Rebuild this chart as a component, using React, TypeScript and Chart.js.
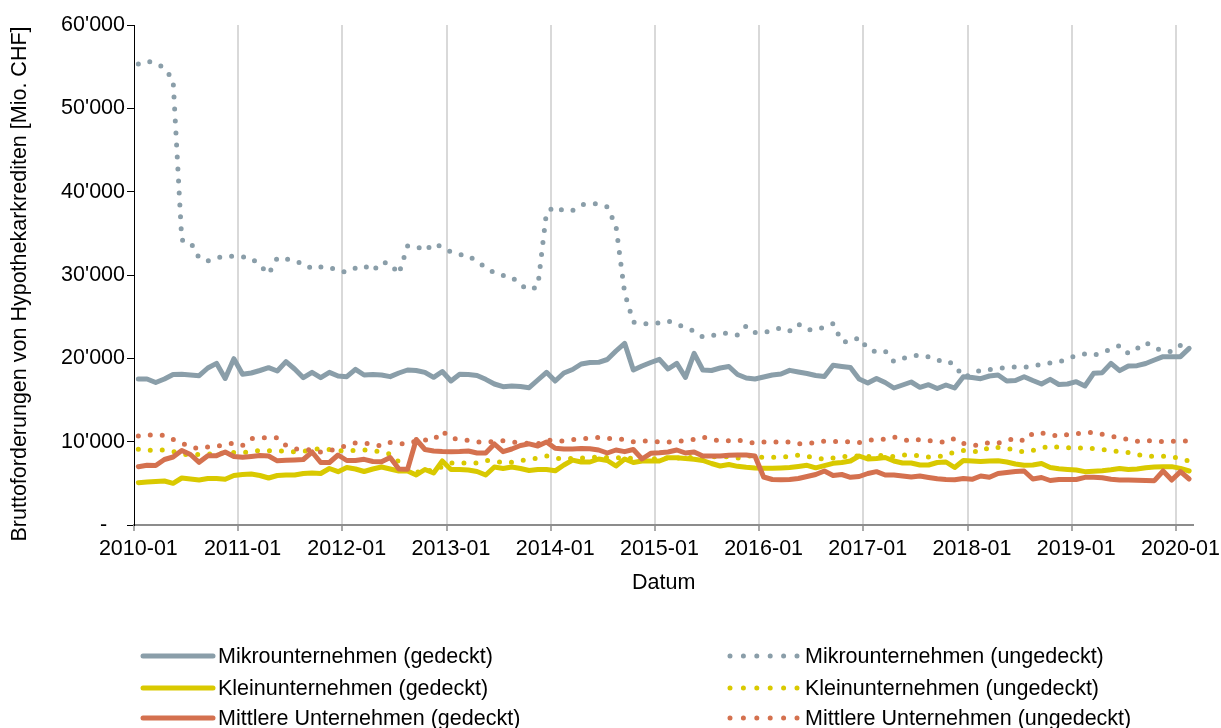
import React, { useEffect, useRef } from 'react';
import { Chart, registerables } from 'chart.js';

Chart.register(...registerables);

// Monthly observations 2010-01 .. 2020-02 (122 months)
const startYear = 2010;
const monthCount = 122;
const months: string[] = Array.from({ length: monthCount }, (_, i) => {
  const y = startYear + Math.floor(i / 12);
  const m = (i % 12) + 1;
  return `${y}-${m < 10 ? '0' + m : m}`;
});

const mikroGedeckt = [
  17520, 17520, 17100, 17520, 18060, 18080, 18000, 17920, 18840, 19400,
  17580, 19960, 18080, 18240, 18540, 18880, 18480, 19600, 18720, 17680,
  18320, 17680, 18320, 17880, 17800, 18680, 18000, 18060, 18000, 17800,
  18240, 18600, 18540, 18320, 17720, 18420, 17280, 18080, 18060, 17940,
  17480, 16920, 16600, 16680, 16620, 16480, 17400, 18320, 17280, 18240,
  18660, 19320, 19500, 19520, 19860, 20880, 21800, 18600, 19080, 19500,
  19880, 18720, 19400, 17720, 20600, 18600, 18540, 18840, 19020, 18060,
  17640, 17520, 17760, 18000, 18120, 18560, 18360, 18180, 17940, 17820,
  19160, 19020, 18900, 17520, 17040, 17580, 17100, 16440, 16800, 17160,
  16520, 16840, 16380, 16800, 16440, 17800, 17700, 17560, 17880, 18000,
  17280, 17340, 17800, 17340, 16920, 17480, 16860, 16920, 17200, 16680,
  18200, 18280, 19400, 18520, 19080, 19120, 19380, 19800, 20200, 20200,
  20200, 21200,
];

const mikroUngedeckt = [
  55320, 55680, 55440, 54840, 53400, 34200, 33960, 32040, 31680, 32040,
  32280, 32220, 32160, 32040, 31140, 30120, 32040, 31980, 31560, 31440,
  30720, 30960, 30960, 30480, 30360, 30840, 31140, 30480, 31560, 31380,
  30120, 33480, 33480, 32880, 33780, 33360, 32760, 32460, 32340, 31560,
  30960, 30240, 29940, 29760, 28800, 28200, 28620, 37560, 38220, 37680,
  37740, 38400, 38580, 38520, 38160, 35880, 27840, 24360, 24120, 24160,
  24240, 24480, 24120, 23640, 23280, 22560, 22680, 22980, 23040, 22800,
  23880, 23100, 23040, 23400, 23640, 23280, 24120, 23460, 23400, 23760,
  24180, 22020, 21960, 22500, 21120, 20760, 20880, 19620, 19980, 20280,
  20400, 20160, 19740, 19800, 19200, 17760, 18060, 18600, 18660, 18780,
  18900, 18960, 18920, 19080, 19260, 19440, 19560, 19920, 20340, 20520,
  20340, 20700, 21120, 21540, 20580, 21180, 21900, 21300, 20880, 20820,
  21540, 21600,
];

const kleinGedeckt = [
  5080, 5160, 5220, 5280, 5000, 5640, 5520, 5400, 5580, 5580,
  5480, 5940, 6060, 6120, 5940, 5640, 5940, 6000, 6000, 6180,
  6240, 6180, 6780, 6400, 6900, 6720, 6420, 6720, 6960, 6720,
  6480, 6480, 6000, 6660, 6240, 7680, 6660, 6660, 6600, 6420,
  6000, 6960, 6780, 6960, 6780, 6540, 6660, 6660, 6500, 7200,
  7780, 7560, 7560, 7920, 7740, 7080, 7920, 7500, 7680, 7680,
  7680, 8080, 8080, 7980, 7880, 7740, 7380, 7080, 7260, 7040,
  6920, 6840, 6800, 6800, 6840, 6900, 7020, 7160, 6860, 7120,
  7400, 7500, 7680, 8280, 7920, 7980, 8100, 7680, 7440, 7440,
  7200, 7200, 7500, 7560, 6900, 7740, 7680, 7620, 7680, 7720,
  7560, 7320, 7160, 7200, 7380, 6900, 6740, 6660, 6600, 6400,
  6460, 6500, 6620, 6790, 6660, 6720, 6880, 6960, 7000, 7000,
  6800, 6480,
];

const kleinUngedeckt = [
  9080, 8940, 9000, 9000, 8820, 8520, 8400, 8460, 8520, 8580,
  8640, 8700, 8720, 8760, 8960, 8900, 8880, 8880, 8760, 8820,
  9060, 9140, 9060, 8940, 8880, 8960, 9000, 8940, 8760, 8520,
  7560, 6600, 6300, 6600, 6500, 7000, 7440, 7440, 7440, 7440,
  7740, 7680, 7500, 7520, 7740, 7860, 8040, 8280, 8040, 7920,
  7980, 8040, 8100, 8160, 8100, 8040, 8100, 7980, 7920, 7920,
  7980, 8040, 8040, 8040, 8120, 8160, 8180, 8200, 8200, 8020,
  8340, 8220, 8120, 8120, 8160, 8220, 8400, 8220, 8100, 7860,
  8040, 8180, 8300, 8280, 8220, 8340, 8360, 8200, 8400, 8420,
  8300, 8160, 8220, 8340, 8800, 8940, 8880, 8760, 9360, 9300,
  9180, 8980, 8760, 8940, 9200, 9520, 9300, 9260, 9360, 9100,
  9180, 9060, 8880, 8810, 8700, 8500, 8220, 8260, 8260, 8220,
  7920, 7680,
];

const mittlereGedeckt = [
  7000, 7180, 7140, 7860, 8160, 8940, 8460, 7520, 8320, 8320,
  8760, 8220, 8120, 8220, 8340, 8280, 7700, 7760, 7800, 7860,
  8760, 7500, 7500, 8400, 7740, 7740, 7880, 7620, 7600, 8100,
  6720, 6680, 10260, 9060, 8880, 8820, 8800, 8820, 8880, 8640,
  8640, 9720, 8800, 9120, 9540, 9740, 9480, 9960, 9200, 9120,
  9120, 9180, 9140, 9000, 8640, 9000, 8800, 9060, 7920, 8600,
  8660, 8760, 9000, 8640, 8760, 8280, 8280, 8280, 8380, 8400,
  8400, 8280, 5760, 5460, 5420, 5460, 5580, 5820, 6060, 6480,
  5940, 6060, 5720, 5820, 6180, 6400, 6000, 6000, 5880, 5760,
  5880, 5700, 5540, 5460, 5420, 5570, 5480, 5880, 5720, 6180,
  6300, 6420, 6480, 5520, 5700, 5340, 5460, 5460, 5460, 5720,
  5720, 5660, 5480, 5400, 5400, 5380, 5340, 5320, 6480, 5400,
  6400, 5520,
];

const mittlereUngedeckt = [
  10680, 10800, 10840, 10740, 10260, 9840, 9360, 9180, 9360, 9440,
  9660, 9840, 9540, 10380, 10480, 10480, 10480, 9540, 9120, 9060,
  9000, 8760, 8880, 9240, 9540, 9840, 9820, 9720, 9480, 9900,
  9780, 9720, 10080, 10200, 10200, 11280, 10440, 10260, 10140, 9960,
  9960, 10020, 10120, 9960, 9860, 9780, 9740, 10200, 10140, 10080,
  10260, 10320, 10420, 10500, 10380, 10360, 10260, 10000, 10080, 10080,
  9980, 9960, 10040, 10140, 10280, 10560, 10260, 10120, 10120, 10200,
  9960, 9840, 9960, 9960, 9960, 9960, 9740, 9780, 9880, 10080,
  10020, 10000, 9980, 9900, 10140, 10280, 10280, 10560, 10260, 10080,
  10280, 10140, 10020, 9900, 10380, 9780, 9560, 9600, 9920, 9840,
  10080, 10440, 10080, 11000, 11060, 10860, 10620, 10860, 10960, 11040,
  11120, 10880, 10680, 10460, 10280, 10040, 10130, 10080, 10000, 10060,
  10080, 10080,
];

const xTickMonths = [0, 12, 24, 36, 48, 60, 72, 84, 96, 108, 120];
const xTickLabels = ['2010-01', '2011-01', '2012-01', '2013-01', '2014-01', '2015-01', '2016-01', '2017-01', '2018-01', '2019-01', '2020-01'];
const yTickValues = [0, 10000, 20000, 30000, 40000, 50000, 60000];
const yTickLabels = ['-   ', "10'000", "20'000", "30'000", "40'000", "50'000", "60'000"];

const xAxisTitle = 'Datum';
const yAxisTitle = 'Bruttoforderungen von Hypothekarkrediten [Mio. CHF]';

const seriesNames = [
  'Mikrounternehmen (gedeckt)',
  'Mikrounternehmen (ungedeckt)',
  'Kleinunternehmen (gedeckt)',
  'Kleinunternehmen (ungedeckt)',
  'Mittlere Unternehmen (gedeckt)',
  'Mittlere Unternehmen (ungedeckt)',
];

const GREY = '#8a9ea9';
const YELLOW = '#d9c900';
const ORANGE = '#d4714f';
const FONT_FAMILY = '"Liberation Sans", Arial, Helvetica, sans-serif';
const FONT_SIZE = 21.5;

const toPoints = (vals: number[]) => vals.map((v, i) => ({ x: i + 0.5, y: v }));

const legendItems = [
  { label: seriesNames[0], color: GREY, dotted: false },
  { label: seriesNames[1], color: GREY, dotted: true },
  { label: seriesNames[2], color: YELLOW, dotted: false },
  { label: seriesNames[3], color: YELLOW, dotted: true },
  { label: seriesNames[4], color: ORANGE, dotted: false },
  { label: seriesNames[5], color: ORANGE, dotted: true },
];

const overlayPlugin = {
  id: 'customOverlay',
  afterDraw(chart: any) {
    const ctx = chart.ctx as CanvasRenderingContext2D;
    const area = chart.chartArea;
    ctx.save();
    ctx.font = `${FONT_SIZE}px ${FONT_FAMILY}`;
    ctx.fillStyle = '#000';

    // y-axis title (rotated)
    ctx.save();
    ctx.translate(20, (area.top + area.bottom) / 2 + 9);
    ctx.rotate(-Math.PI / 2);
    ctx.textAlign = 'center';
    ctx.textBaseline = 'middle';
    ctx.fillText(yAxisTitle, 0, 0);
    ctx.restore();

    // legend
    const rows = [656, 688, 718];
    const cols = [
      { x0: 143, x1: 213, tx: 218 },
      { x0: 730, x1: 798, tx: 805 },
    ];
    ctx.textBaseline = 'middle';
    ctx.textAlign = 'left';
    legendItems.forEach((it, i) => {
      const r = Math.floor(i / 2);
      const c = cols[i % 2];
      const y = rows[r];
      ctx.beginPath();
      ctx.strokeStyle = it.color;
      ctx.lineWidth = 5;
      ctx.lineCap = 'round';
      ctx.setLineDash(it.dotted ? [0, 13.4] : []);
      ctx.moveTo(c.x0, y);
      ctx.lineTo(c.x1, y);
      ctx.stroke();
      ctx.setLineDash([]);
      ctx.fillStyle = '#000';
      ctx.fillText(it.label, c.tx, y + 1);
    });
    ctx.restore();
  },
};

export default function App() {
  const canvasRef = useRef<HTMLCanvasElement | null>(null);

  useEffect(() => {
    if (!canvasRef.current) return;
    const solid = (label: string, data: number[], color: string, order: number) => ({
      label,
      data: toPoints(data),
      borderColor: color,
      backgroundColor: color,
      borderWidth: 5,
      borderJoinStyle: 'round' as const,
      borderCapStyle: 'round' as const,
      pointRadius: 0,
      tension: 0,
      order,
    });
    const dotted = (label: string, data: number[], color: string, order: number) => ({
      label,
      data: toPoints(data),
      borderColor: color,
      backgroundColor: color,
      borderWidth: 5,
      borderDash: [0, 12],
      borderCapStyle: 'round' as const,
      borderJoinStyle: 'round' as const,
      pointRadius: 0,
      tension: 0,
      order,
    });
    const font = { family: FONT_FAMILY, size: FONT_SIZE };
    const chart = new Chart(canvasRef.current, {
      type: 'line',
      data: {
        datasets: [
          solid(seriesNames[4], mittlereGedeckt, ORANGE, 1),
          solid(seriesNames[2], kleinGedeckt, YELLOW, 2),
          solid(seriesNames[0], mikroGedeckt, GREY, 3),
          dotted(seriesNames[5], mittlereUngedeckt, ORANGE, 4),
          dotted(seriesNames[3], kleinUngedeckt, YELLOW, 5),
          dotted(seriesNames[1], mikroUngedeckt, GREY, 6),
        ],
      },
      options: {
        animation: false,
        responsive: false,
        maintainAspectRatio: false,
        layout: { padding: { top: 25, right: 27, bottom: 128, left: 0 } },
        plugins: { legend: { display: false }, tooltip: { enabled: false } },
        scales: {
          x: {
            type: 'linear',
            min: 0,
            max: monthCount,
            afterBuildTicks: (s: any) => {
              s.ticks = xTickMonths.map((v) => ({ value: v }));
            },
            afterFit: (s: any) => {
              s.height = 75;
            },
            ticks: {
              callback: (v: any) => xTickLabels[xTickMonths.indexOf(Number(v))] ?? '',
              labelOffset: 4.35,
              padding: 5,
              maxRotation: 0,
              autoSkip: false,
              color: '#000',
              font,
            },
            grid: {
              color: (c: any) => (c.tick && c.tick.value === 0 ? 'rgba(0,0,0,0)' : '#d9d9d9'),
              lineWidth: 2,
              tickColor: '#8c8c8c',
              tickLength: 6,
              tickWidth: 1.5,
            },
            border: { color: '#8c8c8c', width: 2 },
            title: { display: true, text: xAxisTitle, color: '#000', font, padding: { top: 4, bottom: 4 } },
          },
          y: {
            type: 'linear',
            min: 0,
            max: 60000,
            afterBuildTicks: (s: any) => {
              s.ticks = yTickValues.map((v) => ({ value: v }));
            },
            afterFit: (s: any) => {
              s.width = 134;
            },
            ticks: {
              callback: (v: any) => yTickLabels[yTickValues.indexOf(Number(v))] ?? '',
              padding: 2,
              color: '#000',
              font,
            },
            grid: {
              drawOnChartArea: false,
              tickLength: 7,
              tickColor: '#000',
              tickWidth: 1,
            },
            border: { color: '#000', width: 1 },
            title: { display: false },
          },
        },
      },
      plugins: [overlayPlugin],
    } as any);
    return () => chart.destroy();
  }, []);

  return (
    <div style={{ position: 'fixed', left: 0, top: 0, width: 1221, height: 728, background: '#fff' }}>
      <canvas ref={canvasRef} width={1221} height={728} style={{ display: 'block', width: 1221, height: 728 }} />
    </div>
  );
}
